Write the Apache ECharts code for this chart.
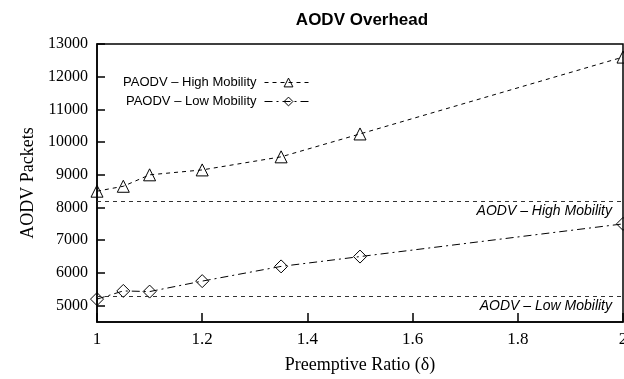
<!DOCTYPE html>
<html><head><meta charset="utf-8">
<script src="https://cdn.jsdelivr.net/npm/echarts@6/dist/echarts.min.js"></script>
<style>html,body{margin:0;padding:0;background:#fff}#c{width:624px;height:379px}</style>
</head><body><div id="c"></div>
<script>
const ratios = [1, 1.05, 1.1, 1.2, 1.35, 1.5, 2];
const paodvHigh = [8500, 8650, 9000, 9150, 9550, 10250, 12600];
const paodvLow = [5200, 5450, 5430, 5750, 6200, 6500, 7500];
const aodvHigh = 8200;
const aodvLow = 5300;
const yTicks = [5000, 6000, 7000, 8000, 9000, 10000, 11000, 12000, 13000];
const xTicks = [1, 1.2, 1.4, 1.6, 1.8, 2];

const chart = echarts.init(document.getElementById('c'), null, {renderer: 'canvas'});
const serif = 'Liberation Serif';
const sans = 'Liberation Sans';
const annLabel = {
  show: true, position: 'insideEndBottom', distance: [11, 3],
  fontFamily: sans, fontStyle: 'italic', fontSize: 14, color: '#000'
};
const legendCommon = {
  right: 311, padding: 0, align: 'right', itemWidth: 48, itemHeight: 11, itemGap: 6,
  textStyle: {fontFamily: sans, fontSize: 13, color: '#000', padding: [0, 3, 0, 0]},
  itemStyle: {color: 'rgba(255,255,255,0)', borderColor: '#000', borderWidth: 1},
  lineStyle: {width: 1, color: '#000'}
};
chart.setOption({
  animation: false,
  title: {text: 'AODV Overhead', left: 357, textAlign: 'center', top: 7,
    textStyle: {fontFamily: sans, fontWeight: 'bold', fontSize: 17, color: '#000'}},
  grid: {left: 97, right: 1, top: 44, bottom: 57, show: true, borderColor: '#000', borderWidth: 1.5,
    outerBoundsMode: 'none', containLabel: false},
  legend: [
    Object.assign({data: ['PAODV – High Mobility'], top: 76}, legendCommon),
    Object.assign({data: ['PAODV – Low Mobility'], top: 95}, legendCommon)
  ],
  xAxis: {
    type: 'value', min: 1, max: 2, interval: 0.2,
    name: 'Preemptive Ratio (δ)', nameLocation: 'middle', nameGap: 34,
    nameTextStyle: {fontFamily: serif, fontSize: 18, color: '#000'},
    axisLine: {lineStyle: {color: '#000', width: 1.5}},
    axisTick: {inside: true, length: 9, lineStyle: {color: '#000', width: 1.5}, customValues: xTicks},
    axisLabel: {fontFamily: serif, fontSize: 17, color: '#000', margin: 9, customValues: xTicks,
      formatter: v => String(+v.toFixed(1))},
    splitLine: {show: false}
  },
  yAxis: {
    type: 'value', min: 4500, max: 13000,
    name: 'AODV Packets', nameLocation: 'middle', nameGap: 54, nameRotate: 90,
    nameTextStyle: {fontFamily: serif, fontSize: 18, color: '#000'},
    axisLine: {show: true, lineStyle: {color: '#000', width: 1.5}},
    axisTick: {show: true, inside: true, length: 8, lineStyle: {color: '#000', width: 1.5}, customValues: yTicks},
    axisLabel: {fontFamily: serif, fontSize: 16, color: '#000', margin: 9, customValues: yTicks,
      formatter: v => String(Math.round(v))},
    splitLine: {show: false}
  },
  series: [
    {
      name: 'PAODV – High Mobility', type: 'line',
      data: ratios.map((x, i) => [x, paodvHigh[i]]),
      symbol: 'triangle', symbolSize: 12,
      itemStyle: {color: 'rgba(255,255,255,0)', borderColor: '#000', borderWidth: 1},
      lineStyle: {color: '#000', width: 1, type: [4, 4]},
      markLine: {
        silent: true, symbol: 'none',
        lineStyle: {color: '#333', width: 1, type: [4, 4]},
        label: Object.assign({formatter: 'AODV – High Mobility'}, annLabel),
        data: [{yAxis: aodvHigh}]
      },
      z: 3
    },
    {
      name: 'PAODV – Low Mobility', type: 'line',
      data: ratios.map((x, i) => [x, paodvLow[i]]),
      symbol: 'diamond', symbolSize: 13,
      itemStyle: {color: 'rgba(255,255,255,0)', borderColor: '#000', borderWidth: 1},
      lineStyle: {color: '#000', width: 1, type: [8, 4, 2, 4]},
      markLine: {
        silent: true, symbol: 'none',
        lineStyle: {color: '#333', width: 1, type: [4, 4]},
        label: Object.assign({formatter: 'AODV – Low Mobility'}, annLabel),
        data: [{yAxis: aodvLow}]
      },
      z: 3
    }
  ]
});
</script></body></html>
